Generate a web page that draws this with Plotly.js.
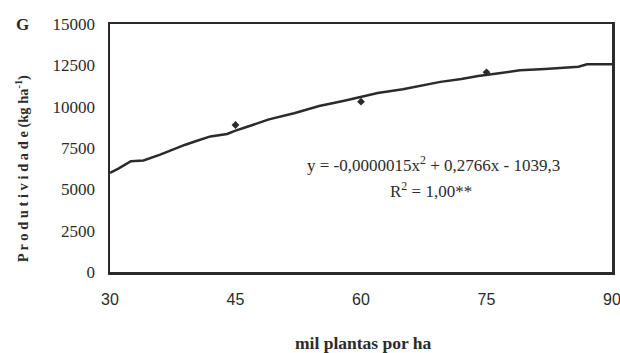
<!DOCTYPE html>
<html>
<head>
<meta charset="utf-8">
<script src="https://cdn.plot.ly/plotly-3.0.1.min.js"></script>
<style>html,body{margin:0;padding:0;background:#fff;}#chart{width:620px;height:353px;}</style>
</head>
<body>
<div id="chart"></div>
<script>
// Fitted curve (thousand plants per ha, kg/ha)
const curveX = [30, 31, 32.5, 34, 36, 37.5, 39, 40.5, 42, 44, 45, 46.5, 49, 52, 55, 58, 60, 62, 65, 67, 69.5, 72, 74, 76.5, 79, 82, 86, 87, 90];
const curveY = [6000, 6250, 6700, 6750, 7100, 7400, 7700, 7950, 8200, 8350, 8550, 8800, 9230, 9600, 10040, 10360, 10600, 10830, 11050, 11270, 11500, 11670, 11850, 12020, 12200, 12280, 12420, 12560, 12560];
// Observed points
const obsX = [45, 60, 75];
const obsY = [8890, 10300, 12080];
// Ticks
const xTicks = [30, 45, 60, 75, 90];
const yTicks = [0, 2500, 5000, 7500, 10000, 12500, 15000];

const serif = "'Liberation Serif', 'Times New Roman', serif";
const sans = "'Liberation Sans', Arial, sans-serif";
const ink = "#2b2b2b";

const traces = [
  {x: curveX, y: curveY, mode: "lines", line: {color: ink, width: 2.5}, hoverinfo: "skip"},
  {x: obsX, y: obsY, mode: "markers", marker: {symbol: "diamond", size: 6, color: ink}}
];

const layout = {
  width: 620, height: 353,
  margin: {l: 110, r: 8, t: 24, b: 81},
  paper_bgcolor: "#fff", plot_bgcolor: "#fff",
  showlegend: false,
  font: {family: serif, color: ink},
  xaxis: {
    range: [30, 90], tickvals: xTicks, ticktext: xTicks.map(String),
    showgrid: false, zeroline: false,
    showline: true, mirror: true, linecolor: ink, linewidth: 2.5,
    ticks: "outside", ticklen: 11, tickcolor: "rgba(0,0,0,0)",
    ticklabeloverflow: "allow",
    tickfont: {family: sans, size: 16, color: ink}
  },
  yaxis: {
    range: [0, 15000], tickvals: yTicks, ticktext: yTicks.map(String),
    showgrid: false, zeroline: false,
    showline: true, mirror: true, linecolor: ink, linewidth: 2.5,
    ticks: "outside", ticklen: 9, tickcolor: "rgba(0,0,0,0)",
    ticklabeloverflow: "allow",
    tickfont: {family: serif, size: 17, color: ink}
  },
  annotations: [
    {text: "<b>G</b>", xref: "paper", yref: "paper", x: -0.175, y: 1.0, xanchor: "center", yanchor: "middle", showarrow: false, font: {family: serif, size: 17, color: ink}},
    {text: "<b>P r o d u t i v i d a d e (kg ha<sup>-1</sup>)</b>", xref: "paper", yref: "paper", x: -0.175, y: 0.415, xanchor: "center", yanchor: "middle", textangle: -90, showarrow: false, font: {family: serif, size: 14.5, color: ink}},
    {text: "<b>mil plantas por ha</b>", xref: "paper", yref: "paper", x: 0.505, y: -0.285, xanchor: "center", yanchor: "middle", showarrow: false, font: {family: serif, size: 17.5, color: ink}},
    {text: "y = -0,0000015x<sup>2</sup> + 0,2766x - 1039,3", xref: "paper", yref: "paper", x: 0.645, y: 0.435, xanchor: "center", yanchor: "middle", showarrow: false, font: {family: serif, size: 17, color: ink}},
    {text: "R<sup>2</sup> = 1,00**", xref: "paper", yref: "paper", x: 0.64, y: 0.33, xanchor: "center", yanchor: "middle", showarrow: false, font: {family: serif, size: 17, color: ink}}
  ]
};

Plotly.newPlot("chart", traces, layout, {displayModeBar: false, staticPlot: true});
</script>
</body>
</html>
